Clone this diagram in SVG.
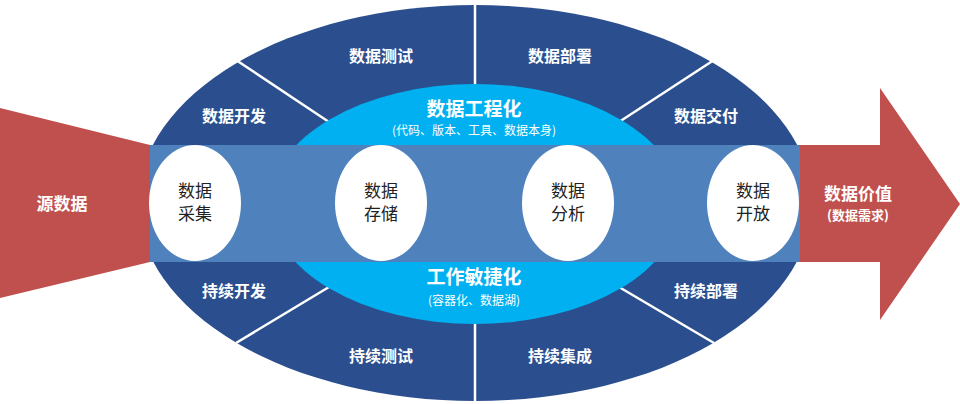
<svg xmlns="http://www.w3.org/2000/svg" width="960" height="404" viewBox="0 0 960 404">
<style>
text{font-family:"Noto Sans CJK SC","Liberation Sans",sans-serif;fill:#fff;text-anchor:middle;font-weight:bold}
.s{font-size:16px}.t{font-size:17px}.sub{font-size:12px;font-weight:normal}
.oc text{fill:#222;font-weight:normal;font-size:17px}
.div{stroke:#fff;stroke-width:2.5}
</style>
<rect width="960" height="404" fill="#fff"/>
<g id="outer"><ellipse cx="475" cy="203" rx="337" ry="198" fill="#2b4f8e"/></g>
<g id="connectors">
<line class="div" x1="475" y1="3" x2="475" y2="90"/>
<line class="div" x1="236" y1="60" x2="329" y2="122"/>
<line class="div" x1="714" y1="60" x2="619" y2="122"/>
<line class="div" x1="475" y1="316" x2="475" y2="404"/>
<line class="div" x1="236" y1="343" x2="329" y2="287"/>
<line class="div" x1="714" y1="343" x2="619" y2="287"/>
</g>
<g id="inner"><ellipse cx="475" cy="204" rx="205" ry="120" fill="#00b0f0"/></g>
<g id="band"><rect x="148" y="145" width="652" height="117" fill="#4f81bd"/></g>
<g id="source"><path d="M0,108 L150,145 L150,262 L0,298 Z" fill="#c0504d"/><text class="t" x="62" y="210">源数据</text></g>
<g id="value"><path d="M800,145 L880,145 L880,88 L960,204 L880,320 L880,262 L800,262 Z" fill="#c0504d"/>
<text class="t" x="858" y="200">数据价值</text><text class="s" x="858" y="220" style="font-size:13px">(数据需求)</text></g>
<g class="oc">
<g id="n1"><ellipse cx="195" cy="203" rx="46" ry="58" fill="#fff"/><text x="195" y="197">数据</text><text x="195" y="220">采集</text></g>
<g id="n2"><ellipse cx="381" cy="203" rx="46" ry="58" fill="#fff"/><text x="381" y="197">数据</text><text x="381" y="220">存储</text></g>
<g id="n3"><ellipse cx="568" cy="203" rx="46" ry="58" fill="#fff"/><text x="568" y="197">数据</text><text x="568" y="220">分析</text></g>
<g id="n4"><ellipse cx="753" cy="203" rx="46" ry="58" fill="#fff"/><text x="753" y="197">数据</text><text x="753" y="220">开放</text></g>
</g>
<g id="labels">
<text class="s" x="381" y="62">数据测试</text>
<text class="s" x="560" y="62">数据部署</text>
<text class="s" x="234" y="122">数据开发</text>
<text class="s" x="706" y="122">数据交付</text>
<text class="t" x="474" y="116" style="font-size:19px">数据工程化</text>
<text class="sub" x="474" y="135">(代码、版本、工具、数据本身)</text>
<text class="t" x="474" y="284" style="font-size:19px">工作敏捷化</text>
<text class="sub" x="474" y="305">(容器化、数据湖)</text>
<text class="s" x="234" y="297">持续开发</text>
<text class="s" x="706" y="297">持续部署</text>
<text class="s" x="381" y="362">持续测试</text>
<text class="s" x="560" y="362">持续集成</text>
</g>
</svg>
